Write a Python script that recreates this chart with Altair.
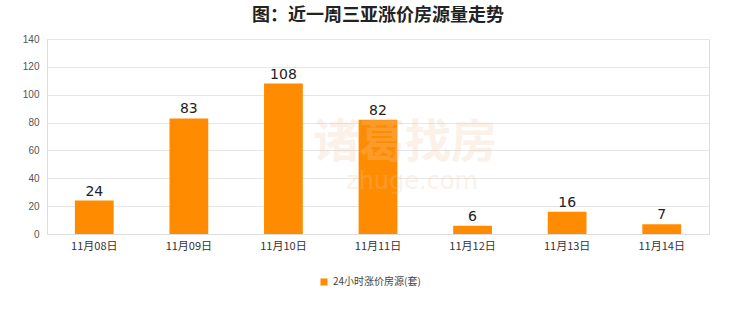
import altair as alt
import pandas as pd

dates = ["11月08日", "11月09日", "11月10日", "11月11日", "11月12日", "11月13日", "11月14日"]
values = [24, 83, 108, 82, 6, 16, 7]
series_name = "24小时涨价房源(套)"
y_ticks = [0, 20, 40, 60, 80, 100, 120, 140]

df = pd.DataFrame({"date": dates, "value": values, "series": [series_name] * len(dates)})

W, H = 662, 195

x_enc = alt.X("date:N", sort=dates, title=None,
              scale=alt.Scale(paddingInner=0.59, paddingOuter=0.295),
              axis=alt.Axis(labelAngle=0, labelFont="Noto Sans CJK SC", labelFontSize=11,
                            labelColor="#333333", domainColor="#dddddd", ticks=False,
                            labelPadding=6))
y_enc = alt.Y("value:Q", title=None,
              scale=alt.Scale(domain=[0, 140], nice=False),
              axis=alt.Axis(values=y_ticks, labelFontSize=10,
                            labelColor="#555555", gridColor="#e6e6e6", domainColor="#dddddd",
                            ticks=False, labelPadding=8, labelOverlap=False, labelFlush=False,
                            labelBound=False))

base = alt.Chart(df).encode(x=x_enc, y=y_enc)

bars = base.mark_bar(color="#ff8c00").encode(
    opacity=alt.Opacity("series:N", legend=alt.Legend(
        title=None, orient="none", legendX=272, legendY=238, symbolType="square",
        symbolFillColor="#ff8c00", symbolStrokeColor="#ff8c00", symbolSize=50,
        labelFont="Noto Sans CJK SC", labelFontSize=10, labelColor="#444444"),
        scale=alt.Scale(range=[1])),
)

labels = base.mark_text(dy=-9, fontSize=14, color="#222222", font="DejaVu Sans").encode(
    text="value:Q",
)

wm1 = alt.Chart(pd.DataFrame({"t": ["诸葛找房"]})).mark_text(
    fontSize=46, color="#f3c9a8", opacity=0.25, font="Noto Sans CJK SC", fontWeight="bold"
).encode(x=alt.value(358), y=alt.value(104), text="t:N")
wm2 = alt.Chart(pd.DataFrame({"t": ["zhuge.com"]})).mark_text(
    fontSize=24, color="#f3c9a8", opacity=0.25, font="DejaVu Sans"
).encode(x=alt.value(365), y=alt.value(143), text="t:N")

chart = alt.layer(bars, labels, wm1, wm2).properties(
    width=W, height=H,
    title=alt.TitleParams("图：近一周三亚涨价房源量走势", fontSize=18, font="Noto Sans CJK SC",
                          fontWeight="bold", color="#222222", anchor="middle", offset=9),
    padding={"left": 47, "top": 39, "right": 31, "bottom": 78},
    autosize=alt.AutoSizeParams(type="none"),
).configure_view(stroke="#dddddd").configure(background="white")

chart.save("out.html", embed_options={"renderer": "svg", "actions": False})
